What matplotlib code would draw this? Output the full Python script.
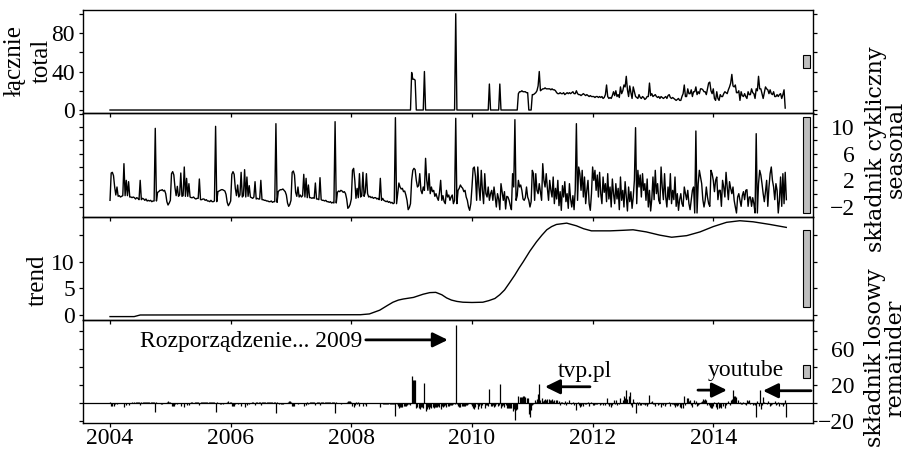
import numpy as np
import matplotlib.pyplot as plt
from matplotlib.patches import Rectangle

plt.rcParams['font.family'] = ['Liberation Serif', 'DejaVu Serif']

FREQ = 52
START = 2004.0

# seasonal component, weekly, one row per year
seasonal_2004 = [-1.0, 3.1, 3.2, 2.7, 1.0, -0.2, 1.0, -0.4, -0.3, -0.5, -0.4, -0.3, 4.5, -0.3, 2.0, -0.3, 1.8, -0.5,
                 -0.5, -0.6, -0.5, -0.6, -0.8, -0.6, -0.7, -0.9, 2.0, -0.9, -0.7, -0.8, -1.0, -0.8, -1.1, -1.0, -1.1,
                 -1.0, -1.2, -1.1, -1.1, 9.8, -1.1, 0.2, 0.3, 0.5, 0.5, 0.6, 0.4, 0.5, 0.0, -1.2, -1.7, -1.4]
seasonal_2005 = [-1.0, 3.0, 3.3, 2.8, 0.9, -0.3, 1.1, -0.4, -0.2, 3.1, -0.4, -0.3, 4.0, -0.4, 2.3, -0.4, 1.5, -0.5,
                 -0.6, -0.6, -0.5, -0.7, -0.8, -0.7, -0.7, 2.2, -0.9, -0.9, -0.8, -0.8, -1.0, -0.9, -1.1, -1.1, -1.2,
                 -1.0, -1.2, -1.2, -1.1, 10.1, -1.2, 0.3, 0.4, 0.5, 0.6, 0.6, 0.5, 0.4, -0.1, -1.3, -1.8, -1.5]
seasonal_2006 = [-1.1, 2.9, 3.3, 2.9, 0.8, -0.3, 1.3, -0.5, -0.2, 3.2, -0.5, -0.3, 3.6, -0.5, 2.5, -0.4, 1.2, -0.5,
                 -0.6, -0.7, -0.5, 1.8, -0.8, -0.7, -0.8, -0.8, 2.0, -0.9, -0.9, -1.0, -1.0, -1.1, -1.1, -1.2, -1.2,
                 -1.1, -1.3, -1.2, -1.2, 10.5, -1.3, 0.3, 0.5, 0.6, 0.6, 0.7, 0.5, 0.3, -0.2, -1.4, -1.9, -1.6]
seasonal_2007 = [-1.0, 3.2, 3.4, 2.8, 0.2, -0.4, 1.0, -0.5, -0.2, -0.5, -0.3, 2.9, -0.5, 2.3, -0.6, 1.3, -0.6, -0.6,
                 -0.7, -0.6, -0.7, 1.6, -0.8, -0.8, -0.9, 2.4, -0.9, -1.0, -1.0, -1.1, -1.0, -1.2, -1.2, -1.3, -1.2,
                 -1.4, -1.3, -1.4, 10.8, -1.4, 0.2, 0.4, 0.3, 0.5, 0.4, 0.2, 0.3, 0.0, -0.8, -2.2, -2.0, -1.6]
seasonal_2008 = [-0.8, 3.5, 3.8, 2.0, -0.7, 0.8, -0.6, 3.0, -0.5, -0.3, 3.2, -0.4, 0.2, 3.0, 0.0, -0.5, -0.4, -0.6,
                 -0.5, -0.7, -0.6, -0.6, -0.8, -0.7, -0.9, 2.3, -1.0, -0.7, -1.0, -1.1, -1.2, -1.1, -1.3, -1.2, -1.4,
                 -1.3, -1.5, -1.4, 11.4, -1.5, 0.0, 1.6, 1.0, 0.7, 0.8, 0.3, 0.4, -0.2, -1.0, -2.4, -2.1, -1.5]
seasonal_2009 = [2.0, 3.5, 3.8, 3.6, 2.0, 1.0, 1.2, 3.0, 0.5, 0.0, 1.0, 0.5, 5.3, 2.0, 0.5, 3.0, 0.0, 1.0, 0.3, 0.5,
                 -0.4, 0.0, -0.6, -1.0, 0.2, 2.0, -1.0, -0.3, -1.2, -1.5, 0.5, -0.5, -0.2, -1.0, -0.5, -0.2, -1.5,
                 -1.0, 11.3, -1.5, 0.5, 0.8, 1.3, 1.0, 0.8, 0.3, 0.5, -0.5, -1.0, -2.0, -2.5, -1.5]
seasonal_2010 = [1.0, 3.8, 4.0, 2.6, -1.0, 4.0, 1.0, -1.0, 3.5, 0.5, -1.5, 3.0, 0.0, -0.5, 1.0, -1.0, 0.0, 0.5, -1.0,
                 1.0, -0.5, -2.0, 0.0, -0.8, -2.4, 1.5, 0.2, -1.0, 0.3, -2.3, -0.4, -0.5, -1.0, -1.8, -2.4, 3.0, 1.0,
                 11.1, -1.0, -0.3, 2.0, 1.0, 1.3, 0.5, -0.8, -1.0, -0.6, 1.0, -0.5, -1.0, -2.0, -1.2]
seasonal_2011 = [3.5, 3.0, -1.0, 3.0, 0.5, 0.0, 1.5, 0.2, -1.0, 4.5, 2.0, 1.0, 3.0, 0.8, -1.0, 2.0, 0.5, -0.5, 2.5,
                 -1.5, 0.8, -0.8, 2.0, -1.8, 0.3, -2.5, 1.2, -0.5, 1.8, -1.2, 0.0, -2.2, 1.5, -0.8, -2.0, -0.3, -2.4,
                 0.5, 10.5, -1.0, 4.0, 3.0, 0.5, 3.5, -0.5, 2.5, -1.5, 0.5, 2.0, -1.5, -2.5, 0.0]
seasonal_2012 = [4.0, 2.0, 3.5, 0.5, 2.8, -0.5, 3.2, 0.0, -1.5, 2.5, 0.2, 1.5, -1.2, 3.0, -0.8, 1.0, -2.0, 2.2, 0.0,
                 -1.5, 1.5, -0.8, 0.8, -2.4, 2.5, -1.0, 0.5, -2.0, 1.8, -0.5, -2.6, 1.0, -1.2, 0.3, -2.2, -0.5, 2.0,
                 9.9, -1.5, 3.5, 1.0, 2.8, -0.5, 3.0, 0.5, 1.5, -1.0, 2.2, -2.0, 0.5, -2.6, -0.8]
seasonal_2013 = [2.5, -0.9, 3.5, 0.0, 1.5, -1.0, -1.5, 4.0, 1.0, -0.9, 3.0, -0.5, -2.0, 1.0, -0.9, 3.0, -1.5, 0.5,
                 -0.9, 2.5, -1.9, 0.0, -2.5, -0.9, 0.0, -1.5, -1.9, 1.0, 0.0, -0.9, 0.5, -1.5, -2.4, -0.9, 0.5, 1.0,
                 -2.9, 9.4, -2.9, 1.5, 3.5, 2.5, 1.5, -0.9, -2.0, -1.0, 1.0, -0.5, -1.5, -1.9, 3.5, 3.0]
seasonal_2014 = [2.0, 0.3, 2.0, 2.5, -0.9, 0.5, 0.5, -1.9, 2.0, 1.0, -0.5, 3.2, 1.0, -0.9, 1.8, 0.8, 0.0, 1.0, -1.0,
                 -2.0, -2.9, -0.5, 0.0, -1.0, -1.9, -0.3, 0.3, -0.9, 0.5, 0.6, -1.9, -0.5, -0.5, -1.9, -0.6, -1.5,
                 -2.9, 9.0, -2.9, 1.5, 3.5, 2.8, 1.5, 0.0, -1.2, 0.3, 2.0, -1.9, 1.0, 3.0, 4.0, 2.0]
seasonal_2015 = [1.0, -0.9, 1.5, 0.5, -2.9, -1.0, 2.5, -1.9, 3.0, -1.5, 3.2, -0.9]

# remainder, weekly, one row per year
remainder_2004 = [1, -3, -3, -3, -1, 0, -1, 0, 0, 0, 0, 0, -4, 0, -2, 0, -2, 0, 0, 1, 0, 1, 1, 1, 1, 1, -2, 1, 1, 1,
                  1, 1, 1, 1, 1, 1, 1, 1, 1, -10, 1, 0, 0, 0, -1, -1, 0, 0, 0, 1, 2, 1]
remainder_2005 = [1, -3, -3, -3, -1, 0, -1, 0, 0, -3, 0, 0, -4, 0, -2, 0, -2, 0, 1, 1, 0, 1, 1, 1, 1, -2, 1, 1, 1, 1,
                  1, 1, 1, 1, 1, 1, 1, 1, 1, -10, 1, 0, 0, -1, -1, -1, 0, 0, 0, 1, 2, 1]
remainder_2006 = [1, -3, -3, -3, -1, 0, -1, 0, 0, -3, 0, 0, -4, 0, -2, 0, -1, 0, 1, 1, 0, -2, 1, 1, 1, 1, -2, 1, 1, 1,
                  1, 1, 1, 1, 1, 1, 1, 1, 1, -11, 1, 0, -1, -1, -1, -1, 0, 0, 0, 1, 2, 2]
remainder_2007 = [1, -3, -3, -3, 0, 0, -1, 0, 0, 0, 0, -3, 0, -2, 1, -1, 1, 1, 1, 1, 1, -2, 1, 1, 1, -2, 1, 1, 1, 1,
                  1, 1, 1, 1, 1, 1, 1, 1, -11, 1, 0, 0, 0, -1, 0, 0, 0, 0, 1, 2, 2, 2]
remainder_2008 = [1, -3, -4, -2, 1, -1, 1, -3, 0, 0, -3, 0, -1, -3, 0, 0, 0, 0, 0, 0, 0, 0, 0, 0, 0, -4, 0, -1, -1,
                  -1, -1, -1, -1, -1, -1, -1, -1, -1, -14, -1, -3, -5, -4, -4, -4, -3, -3, -3, -2, -1, -1, -2]
remainder_2009 = [30, 26, 26, 26, -5, -4, -5, -6, -4, -4, -5, 22, -9, -6, -4, -7, -4, -5, -4, -5, -4, -4, -4, -3, -4,
                  -6, -3, -4, -3, -2, -4, -3, -3, -2, -2, -2, -1, -1, 86, -1, -3, -4, -4, -3, -3, -3, -3, -2, -2, -1,
                  0, -1]
remainder_2010 = [-3, -5, -6, -4, -1, -6, -3, -1, -5, -2, 0, -5, -2, -2, -3, 16, -3, -3, -2, -4, -3, -1, -3, -2, 21,
                  -5, -3, -2, -4, -2, -5, -5, -5, -5, -5, -9, -7, -19, -8, -7, 8, 7, 7, 7, 8, 8, 7, 6, 6, -12, -15, -8]
remainder_2011 = [-2, -1, 4, 1, 5, 10, 21, 4, 6, 2, 4, 5, 3, 5, 5, 3, 4, 5, 2, 3, 4, 3, 0, 2, -2, 1, 1, -1, 2, -2,
                  1, 0, 3, -1, 0, 1, -2, 0, -8, 1, -2, -4, -3, -1, -3, -1, -1, 0, 1, -3, 0, 1]
remainder_2012 = [-2, -2, -1, -1, -1, 0, -2, -1, 0, -2, 0, -2, 6, -1, -3, -1, -4, -2, 3, -1, 3, -2, 0, -1, 6, 0, 3,
                  8, 6, 15, 5, 8, 12, -2, -4, 5, 1, -11, 1, -2, 1, -2, -2, -1, -1, -2, -1, -3, -1, 9, 1, 2]
remainder_2013 = [-1, -1, -3, 0, -2, -1, 0, -4, -1, -2, -3, -1, 0, 0, 1, -3, -1, -1, -2, -4, -2, -3, -2, -4, -5, -1,
                  -5, 8, -2, 6, 6, 2, 4, -2, -4, 4, -1, 2, -3, -2, -1, 1, 2, 5, 4, 5, 3, -2, -2, -4, -5, -5]
remainder_2014 = [-3, 1, -4, -6, 1, -5, -4, -5, -3, 0, -5, -2, 0, 2, -2, 3, 5, 15, 8, 8, 7, 3, 0, 1, -1, -1, 1, -1,
                  -2, 3, 2, 3, -1, 0, -2, -1, -2, -15, 2, -3, 14, -6, -2, 7, 1, 0, -1, 2, 0, -3, -2, -1]
remainder_2015 = [0, 2, -2, -1, 1, -3, -1, -1, -3, -1, 3, -15]

# total: zero from 2004 up to week 51 of 2008, weekly values after that
total_before_2009 = 0
total_first_week = 4 * 52 + 51
total_2008_last = [0]
total_2009 = [39, 32, 32, 31, 0, 0, 0, 0, 0, 0, 0, 40, 0, 0, 0, 0, 0, 0, 0, 0, 0, 0, 0, 0, 0, 0,
              0, 0, 0, 0, 0, 0, 0, 0, 0, 0, 0, 0, 100, 0, 0, 0, 0, 0, 0, 0, 0, 0, 0, 0, 0, 0]
total_2010 = [0, 0, 0, 0, 0, 0, 0, 0, 0, 0, 0, 0, 0, 0, 0, 27, 0, 0, 0, 0, 0, 0, 0, 0, 27, 0,
              0, 0, 0, 0, 0, 0, 0, 0, 0, 0, 0, 0, 0, 0, 17, 19, 19, 20, 19, 19, 19, 18, 18, 0, 0, 0]
total_2011 = [16, 16, 17, 18, 20, 25, 40, 20, 21, 22, 22, 23, 22, 22, 22, 22, 21, 22, 21, 21, 20, 18, 17, 17, 18, 17,
              17, 18, 16, 17, 18, 17, 18, 17, 18, 19, 17, 17, 20, 17, 16, 16, 15, 16, 17, 16, 15, 16, 15, 14, 15, 14]
total_2012 = [14, 14, 13, 14, 14, 13, 14, 13, 14, 12, 13, 16, 26, 14, 12, 13, 12, 15, 19, 15, 20, 14, 16, 13, 24, 17,
              20, 26, 24, 35, 21, 14, 25, 18, 12, 24, 19, 14, 13, 12, 16, 13, 12, 14, 13, 11, 12, 14, 14, 28, 15, 17]
total_2013 = [14, 15, 16, 14, 13, 14, 12, 14, 13, 12, 13, 14, 12, 15, 16, 13, 12, 13, 12, 11, 10, 11, 12, 10, 10, 14,
              17, 26, 14, 14, 22, 17, 17, 21, 14, 19, 19, 24, 16, 19, 17, 22, 22, 21, 19, 19, 16, 22, 28, 29, 20, 17]
total_2014 = [22, 12, 10, 19, 12, 10, 16, 14, 14, 17, 19, 18, 17, 21, 24, 28, 37, 25, 24, 26, 18, 18, 20, 10, 19, 15,
              14, 17, 14, 12, 19, 16, 16, 22, 18, 17, 12, 22, 20, 35, 22, 22, 17, 12, 18, 24, 22, 21, 17, 21, 17, 16]
total_2015 = [19, 14, 14, 16, 14, 16, 17, 12, 16, 21, 2]

trend_years = [2004.0, 2004.4, 2004.5, 2008.15, 2008.3, 2008.47, 2008.6, 2008.69, 2008.78, 2008.86, 2009.03, 2009.19,
               2009.3, 2009.4, 2009.5, 2009.58, 2009.66, 2009.75, 2009.85, 2010.0, 2010.18, 2010.28, 2010.38, 2010.46,
               2010.54, 2010.62, 2010.71, 2010.78, 2010.85, 2010.96, 2011.07, 2011.16, 2011.24, 2011.32, 2011.4,
               2011.57, 2011.73, 2011.85, 2011.98, 2012.29, 2012.5, 2012.67, 2012.89, 2013.11, 2013.31, 2013.56,
               2013.78, 2014.0, 2014.22, 2014.44, 2014.66, 2014.94, 2015.21]
trend_values = [-0.3, -0.3, 0.0, 0.05, 0.2, 0.9, 1.8, 2.4, 2.8, 3.0, 3.3, 3.9, 4.2, 4.25, 3.8, 3.2, 2.8, 2.55, 2.4,
                2.35, 2.4, 2.7, 3.1, 3.8, 4.7, 6.0, 7.5, 8.8, 10.0, 12.0, 13.75, 15.0, 16.0, 16.6, 17.0, 17.25, 16.75,
                16.2, 15.8, 15.8, 15.9, 16.0, 15.6, 15.0, 14.6, 14.9, 15.6, 16.6, 17.4, 17.7, 17.5, 17.0, 16.45]

x_ticks = [2004, 2006, 2008, 2010, 2012, 2014]

seasonal = np.array(seasonal_2004 + seasonal_2005 + seasonal_2006 + seasonal_2007 + seasonal_2008 + seasonal_2009
                    + seasonal_2010 + seasonal_2011 + seasonal_2012 + seasonal_2013 + seasonal_2014 + seasonal_2015)
remainder = np.array(remainder_2004 + remainder_2005 + remainder_2006 + remainder_2007 + remainder_2008
                     + remainder_2009 + remainder_2010 + remainder_2011 + remainder_2012 + remainder_2013
                     + remainder_2014 + remainder_2015)
total_weekly = (total_2008_last + total_2009 + total_2010 + total_2011 + total_2012 + total_2013 + total_2014
                + total_2015)

seasonal_t = START + np.arange(len(seasonal)) / FREQ
remainder_t = START + np.arange(len(remainder)) / FREQ
total_t = np.concatenate([[START], START + (total_first_week + np.arange(len(total_weekly))) / FREQ])
total_v = np.array([total_before_2009] + total_weekly)

W, H = 911, 457
fig = plt.figure(figsize=(W / 100, H / 100), dpi=100)

tops = [10, 113, 217, 320]
bottoms = [113, 217, 320, 423]
ylims = [(-3.1, 103.9), (-3.5, 12.1), (-0.94, 18.4), (-22, 92)]
yticks = [[0, 20, 40, 60, 80, 100], list(range(-2, 13, 2)), [0, 5, 10, 15], [-20, 0, 20, 40, 60, 80]]
ylabels_shown = [[0, 40, 80], [-2, 2, 6, 10], [0, 5, 10], [-20, 20, 60]]
label_right = [False, True, False, True]

axes = []
for i in range(4):
    ax = fig.add_axes([83 / W, 1 - bottoms[i] / H, 730 / W, (bottoms[i] - tops[i]) / H])
    ax.set_facecolor('none')
    ax.set_xlim(2003.552, 2015.653)
    ax.set_ylim(*ylims[i])
    ax.set_xticks(x_ticks)
    ax.set_yticks(yticks[i])
    ax.set_yticklabels([str(v).replace('-', '\u2212') if v in ylabels_shown[i] else '' for v in yticks[i]])
    ax.tick_params(direction='out', length=2.9, width=0.9, labelsize=17, colors='black')
    ax.tick_params(axis='y', left=True, right=True,
                   labelleft=not label_right[i], labelright=label_right[i],
                   pad=27.3 if label_right[i] else 2.9)
    ax.tick_params(axis='x', labelbottom=(i == 3), pad=1)
    if label_right[i]:
        for tick in ax.yaxis.get_major_ticks():
            tick.label2.set_horizontalalignment('right')
    for sp in ax.spines.values():
        sp.set_linewidth(1.0)
    axes.append(ax)

ax1, ax2, ax3, ax4 = axes
ax1.plot(total_t, total_v, color='black', lw=1.0)
ax2.plot(seasonal_t, seasonal, color='black', lw=1.0)
ax3.plot(trend_years, trend_values, color='black', lw=1.0)
ax4.axhline(0, color='black', lw=0.9)
ax4.vlines(remainder_t, 0, remainder, color='black', lw=0.9)

# range bars (same data height in every panel)
bar_h = seasonal.max() - seasonal.min()
for ax, (lo, hi) in zip(axes, ylims):
    mid = (lo + hi) / 2
    ax.add_patch(Rectangle((2015.487, mid - bar_h / 2), 0.116, bar_h,
                           facecolor='#bebebe', edgecolor='black', lw=0.8))


def fx(px):
    return px / W


def fy(py):
    return 1 - py / H


# panel titles
fig.text(fx(28), fy(61), '\u0142\u0105cznie\ntotal', rotation=90, rotation_mode='anchor',
         ha='center', va='center', multialignment='center', linespacing=1.3, fontsize=18)
fig.text(fx(38), fy(280), 'trend', rotation=90, ha='center', va='center', fontsize=18)
fig.text(fx(886), fy(149), 'sk\u0142adnik cykliczny\nseasonal', rotation=90, rotation_mode='anchor',
         ha='center', va='center', multialignment='center', linespacing=0.9,
         fontsize=16, family='DejaVu Serif')
fig.text(fx(885), fy(358), 'sk\u0142adnik losowy\nremainder', rotation=90, rotation_mode='anchor',
         ha='center', va='center', multialignment='center', linespacing=0.9,
         fontsize=16, family='DejaVu Serif')

# annotations in the remainder panel
arrow = dict(arrowstyle='-|>,head_length=0.45,head_width=0.22', lw=2.0, color='black',
             mutation_scale=20, shrinkA=0, shrinkB=0)
ax4.text(2008.177, 62.5, 'Rozporz\u0105dzenie... 2009', ha='right', va='baseline', fontsize=17)
ax4.annotate('', xy=(2009.6, 70), xytext=(2008.24, 70), arrowprops=arrow)
ax4.text(2011.426, 29.2, 'tvp.pl', ha='left', va='baseline', fontsize=17)
ax4.annotate('', xy=(2011.21, 18.1), xytext=(2011.956, 18.1), arrowprops=arrow)
ax4.text(2013.912, 30, 'youtube', ha='left', va='baseline', fontsize=17)
ax4.annotate('', xy=(2014.227, 14.4), xytext=(2013.746, 14.4), arrowprops=arrow)
ax4.annotate('', xy=(2014.824, 13.7), xytext=(2015.62, 13.7), arrowprops=arrow)

fig.savefig('out.png', dpi=100)
